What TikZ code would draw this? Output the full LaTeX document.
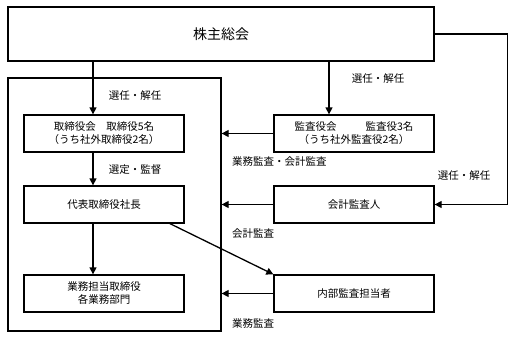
\documentclass[tikz,border=0pt]{standalone}
\usepackage{fontspec}
\setmainfont{Noto Sans CJK JP}
\usetikzlibrary{arrows.meta}
\begin{document}
\begin{tikzpicture}[x=1pt,y=-1pt,
  box/.style={draw,line width=1.3pt,minimum width=160pt,minimum height=37pt,inner sep=0pt,align=center,font=\fontsize{10.5}{13}\selectfont},
  arr/.style={line width=1.3pt,-{Triangle[length=7pt,width=7pt]}},
  lbl/.style={font=\fontsize{10.5}{13}\selectfont,inner sep=0pt}]
\useasboundingbox (0,0) rectangle (514,338);
\node[draw,line width=1.3pt,minimum width=426pt,minimum height=54pt,inner sep=0pt,font=\fontsize{14}{16}\selectfont] (top) at (221,34) {株主総会};
\node[draw,line width=1.3pt,minimum width=213pt,minimum height=253pt,inner sep=0pt] (cont) at (114.5,204.5) {};
\node[box] (board) at (104,133.5) {取締役会　取締役5名\\（うち社外取締役2名）};
\node[box] (audit) at (354,133.5) {監査役会\hspace{29pt}監査役3名\\（うち社外監査役2名）};
\node[box] (pres) at (104,204.5) {代表取締役社長};
\node[box] (kaikei) at (354,204.5) {会計監査人};
\node[box] (gyomu) at (104,293.5) {業務担当取締役\\各業務部門};
\node[box] (naibu) at (354,293.5) {内部監査担当者};
\coordinate (bx) at ([xshift=-11pt]board.north);
\coordinate (ax) at ([xshift=-25pt]audit.north);
\draw[arr] (bx |- top.south) -- (bx);
\draw[arr] (ax |- top.south) -- (ax);
\draw[arr] (top.east) -- ++(73,0) |- (kaikei.east);
\draw[arr] (audit.west) -- (cont.east |- audit.west);
\draw[arr] (kaikei.west) -- (cont.east |- kaikei.west);
\draw[arr] (naibu.west) -- (cont.east |- naibu.west);
\draw[arr] ([xshift=-11pt]board.south) -- ([xshift=-11pt]pres.north);
\draw[arr] ([xshift=-11pt]pres.south) -- ([xshift=-11pt]gyomu.north);
\draw[arr] ([xshift=66pt]pres.south) -- (naibu.north west);
\node[lbl] (l1) at (135,96) {選任・解任};
\node[lbl] (l2) at (378,79) {選任・解任};
\node[lbl] (l3) at (464,176) {選任・解任};
\node[lbl] (l4) at (135,170) {選定・監督};
\node[lbl,anchor=west] (l5) at (232,162) {業務監査・会計監査};
\node[lbl,anchor=west] (l6) at (232,234) {会計監査};
\node[lbl,anchor=west] (l7) at (232,323) {業務監査};
\end{tikzpicture}
\end{document}
